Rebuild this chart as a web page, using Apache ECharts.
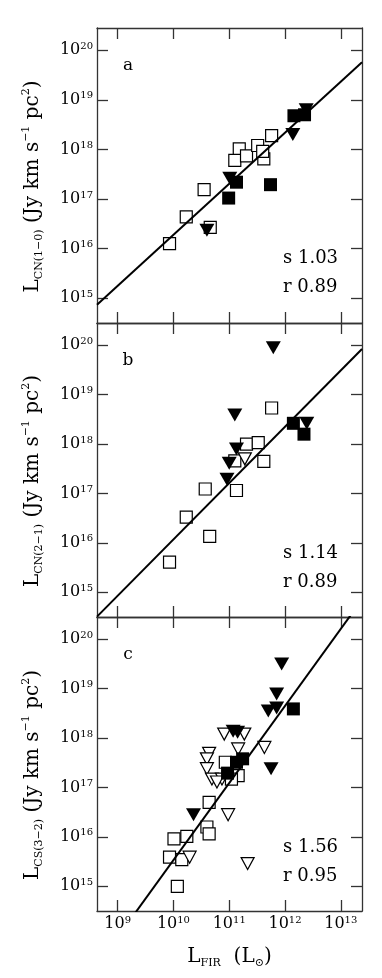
<!DOCTYPE html>
<html>
<head>
<meta charset="utf-8" />
<title>CN / CS vs FIR</title>
<script src="https://cdn.jsdelivr.net/npm/echarts@6/dist/echarts.min.js"></script>
<style>
html,body{margin:0;padding:0;background:#fff;}
#chart{width:382px;height:978px;}
</style>
</head>
<body>
<div id="chart"></div>
<script>
// all values are log10 of the luminosities
var xTicks = [9, 10, 11, 12, 13];
var yTicks = [15, 16, 17, 18, 19, 20];
var panelNames = ['a', 'b', 'c'];
var lineNames = ['CN(1\u22120)', 'CN(2\u22121)', 'CS(3\u22122)'];
var slopes = [1.03, 1.14, 1.56];
var intercepts = [5.98, 4.67, -0.07];
var rValues = ['0.89', '0.89', '0.95'];

// panel a
var aOpenSquare = [[9.93,16.10],[10.23,16.64],[10.55,17.19],[10.66,16.43],[11.18,18.01],[11.10,17.78],[11.31,17.87],[11.51,18.08],[11.76,18.28],[11.62,17.81],[11.60,17.96]];
var aFilledSquare = [[10.99,17.02],[11.13,17.34],[11.74,17.29],[12.16,18.68],[12.35,18.70]];
var aFilledTri = [[11.01,17.42],[10.60,16.37],[12.14,18.30],[12.38,18.80]];
var aOpenTri = [];
// panel b
var bOpenSquare = [[9.93,15.61],[10.23,16.52],[10.57,17.09],[10.65,16.13],[11.13,17.06],[11.76,18.73],[11.31,18.00],[11.52,18.03],[11.62,17.65],[11.10,17.66]];
var bFilledSquare = [[12.15,18.42],[12.34,18.20]];
var bFilledTri = [[11.79,19.95],[11.10,18.59],[11.13,17.90],[11.00,17.61],[10.96,17.29],[12.39,18.42]];
var bOpenTri = [[11.28,17.70]];
// panel c
var cOpenSquare = [[10.01,15.96],[10.24,16.01],[9.93,15.59],[10.15,15.54],[10.07,15.00],[10.64,16.70],[10.60,16.20],[10.64,16.06],[10.93,17.51],[11.16,17.24],[11.04,17.17]];
var cFilledSquare = [[12.15,18.59],[11.24,17.58],[11.13,17.51],[10.97,17.29]];
var cFilledTri = [[11.94,19.50],[11.85,18.89],[11.70,18.55],[11.85,18.61],[11.75,17.38],[11.07,18.14],[11.15,18.12],[10.36,16.45]];
var cOpenTri = [[10.91,18.08],[11.27,18.08],[11.16,17.78],[11.63,17.81],[10.64,17.69],[10.60,17.58],[10.60,17.38],[10.69,17.17],[10.87,17.17],[10.78,17.11],[10.98,16.45],[10.29,15.59],[11.33,15.46]];

var openSquares = [aOpenSquare, bOpenSquare, cOpenSquare];
var filledSquares = [aFilledSquare, bFilledSquare, cFilledSquare];
var filledTris = [aFilledTri, bFilledTri, cFilledTri];
var openTris = [aOpenTri, bOpenTri, cOpenTri];

var xMin = 8.63, xMax = 13.38, yMin = 14.5, yMax = 20.45;
var serif = '"DejaVu Serif", "Liberation Serif", serif';
var frame = '#333';
var tops = [28, 323, 617];
var heights = [295, 294, 294];

var powRich = {
  b: {fontFamily: serif, fontSize: 16, color: '#000', lineHeight: 18},
  s: {fontFamily: serif, fontSize: 10, color: '#000', lineHeight: 13, verticalAlign: 'top'}
};
function pow(v) { return '{b|10}{s|' + v + '}'; }

var titleRich = {
  b: {fontFamily: serif, fontSize: 20, color: '#000', lineHeight: 24},
  sub: {fontFamily: serif, fontSize: 11, color: '#000', lineHeight: 14, verticalAlign: 'bottom'},
  sup: {fontFamily: serif, fontSize: 11, color: '#000', lineHeight: 14, verticalAlign: 'top'}
};

var grids = [], xAxes = [], yAxes = [], series = [], graphics = [];

function frameAxis(extra) {
  var ax = {
    type: 'value',
    axisLine: {show: true, onZero: false, lineStyle: {color: frame, width: 1.3}},
    axisTick: {show: true, inside: true, length: 11, lineStyle: {color: frame, width: 1.3}},
    axisLabel: {show: false},
    splitLine: {show: false}
  };
  for (var k in extra) ax[k] = extra[k];
  return ax;
}

for (var i = 0; i < 3; i++) {
  grids.push({left: 97, top: tops[i], width: 265, height: heights[i]});

  var xb = frameAxis({gridIndex: i, min: xMin, max: xMax, position: 'bottom'});
  xb.axisTick.customValues = xTicks;
  if (i === 2) {
    xb.axisLabel = {show: true, customValues: xTicks, margin: 4, formatter: pow, rich: powRich};
    xb.name = '{b|L}{sub|FIR}{b|  (L}{sub|\u2299}{b|)}';
    xb.nameLocation = 'middle';
    xb.nameGap = 34;
    xb.nameTextStyle = {rich: titleRich};
  }
  var xt = frameAxis({gridIndex: i, min: xMin, max: xMax, position: 'top'});
  xt.axisTick.customValues = xTicks;
  xAxes.push(xb, xt);

  var yl = frameAxis({gridIndex: i, min: yMin, max: yMax, position: 'left'});
  yl.axisTick.customValues = yTicks;
  yl.axisLabel = {show: true, customValues: yTicks, margin: 4, formatter: pow, rich: powRich};
  yl.name = '{b|L}{sub|' + lineNames[i] + '}{b| (Jy km s}{sup|\u22121}{b| pc}{sup|2}{b|)}';
  yl.nameLocation = 'middle';
  yl.nameRotate = 90;
  yl.nameGap = 52;
  yl.nameTextStyle = {rich: titleRich, padding: [0, 22, 0, 0]};
  var yr = frameAxis({gridIndex: i, min: yMin, max: yMax, position: 'right'});
  yr.axisTick.customValues = yTicks;
  yAxes.push(yl, yr);

  var xi = i * 2, yi = i * 2;
  series.push({
    type: 'scatter', xAxisIndex: xi, yAxisIndex: yi, symbol: 'rect', symbolSize: 12, z: 2,
    itemStyle: {color: '#fff', borderColor: '#000', borderWidth: 1.2, opacity: 1},
    data: openSquares[i]
  });
  series.push({
    type: 'scatter', xAxisIndex: xi, yAxisIndex: yi, symbol: 'triangle', symbolRotate: 180,
    symbolSize: [13, 12], z: 2,
    itemStyle: {color: '#fff', borderColor: '#000', borderWidth: 1.2, opacity: 1},
    data: openTris[i]
  });
  // fitted relation log L = a + s log L_FIR
  series.push({
    type: 'line', xAxisIndex: xi, yAxisIndex: yi, showSymbol: false, z: 3, clip: true,
    lineStyle: {color: '#000', width: 2},
    data: [[xMin, intercepts[i] + slopes[i] * xMin], [xMax, intercepts[i] + slopes[i] * xMax]]
  });
  series.push({
    type: 'scatter', xAxisIndex: xi, yAxisIndex: yi, symbol: 'rect', symbolSize: 13, z: 4,
    itemStyle: {color: '#000', opacity: 1},
    data: filledSquares[i]
  });
  series.push({
    type: 'scatter', xAxisIndex: xi, yAxisIndex: yi, symbol: 'triangle', symbolRotate: 180,
    symbolSize: [15, 13], z: 4,
    itemStyle: {color: '#000', opacity: 1},
    data: filledTris[i]
  });

  graphics.push({
    type: 'text', x: 128, y: tops[i] + 38,
    style: {text: panelNames[i], font: '17px ' + serif, fill: '#000', align: 'center', verticalAlign: 'middle'}
  });
  graphics.push({
    type: 'text', x: 283, y: tops[i] + 230,
    style: {text: 's ' + slopes[i].toFixed(2), font: '18px ' + serif, fill: '#000', align: 'left', verticalAlign: 'middle'}
  });
  graphics.push({
    type: 'text', x: 283, y: tops[i] + 259,
    style: {text: 'r ' + rValues[i], font: '18px ' + serif, fill: '#000', align: 'left', verticalAlign: 'middle'}
  });
}

var chart = echarts.init(document.getElementById('chart'));
chart.setOption({
  animation: false,
  backgroundColor: '#fff',
  grid: grids,
  xAxis: xAxes,
  yAxis: yAxes,
  series: series,
  graphic: graphics
});
</script>
</body>
</html>
